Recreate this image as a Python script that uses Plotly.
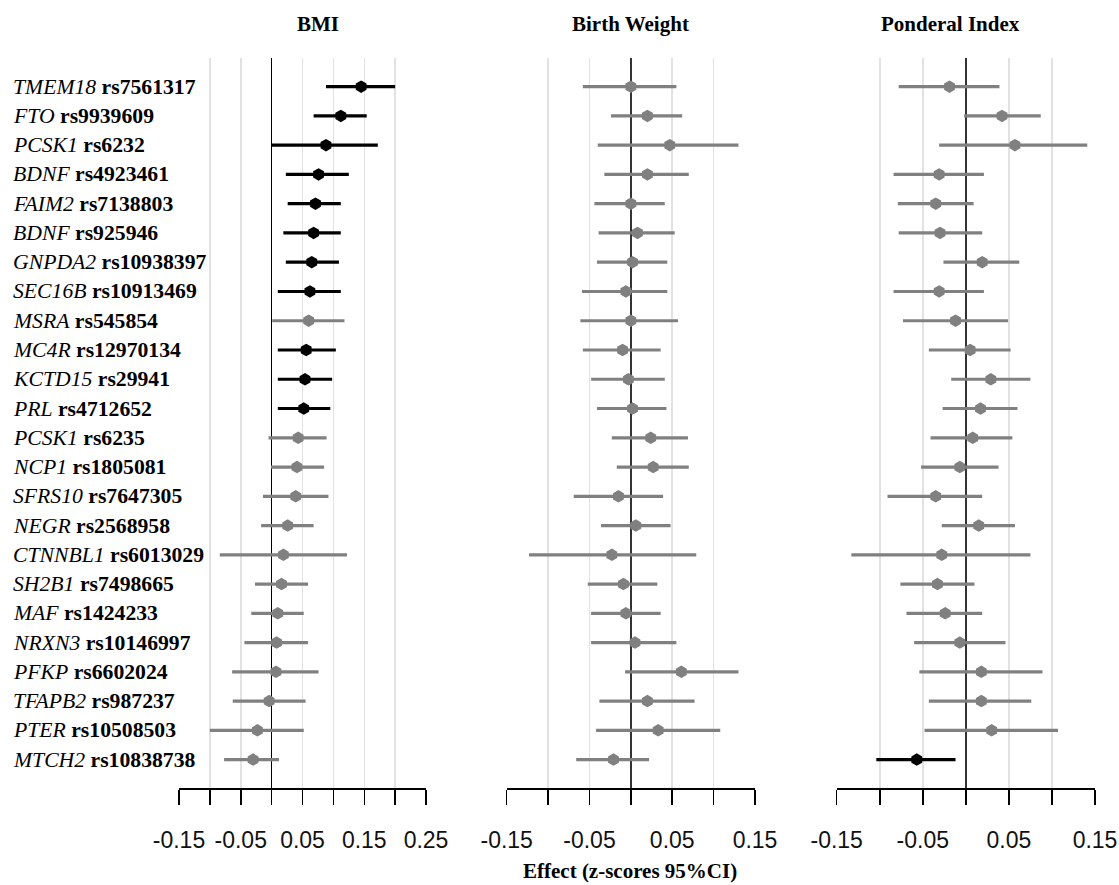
import plotly.graph_objects as go

W, H = 1119, 885

genes = ["TMEM18", "FTO", "PCSK1", "BDNF", "FAIM2", "BDNF", "GNPDA2", "SEC16B",
         "MSRA", "MC4R", "KCTD15", "PRL", "PCSK1", "NCP1", "SFRS10", "NEGR",
         "CTNNBL1", "SH2B1", "MAF", "NRXN3", "PFKP", "TFAPB2", "PTER", "MTCH2"]
snps = ["rs7561317", "rs9939609", "rs6232", "rs4923461", "rs7138803", "rs925946",
        "rs10938397", "rs10913469", "rs545854", "rs12970134", "rs29941", "rs4712652",
        "rs6235", "rs1805081", "rs7647305", "rs2568958", "rs6013029", "rs7498665",
        "rs1424233", "rs10146997", "rs6602024", "rs987237", "rs10508503", "rs10838738"]

bmi_est = [0.145, 0.112, 0.088, 0.076, 0.071, 0.068, 0.065, 0.062, 0.060, 0.056, 0.054, 0.052,
           0.043, 0.041, 0.039, 0.026, 0.019, 0.016, 0.010, 0.008, 0.007, -0.004, -0.023, -0.030]
bmi_lo = [0.088, 0.068, 0.000, 0.023, 0.026, 0.019, 0.023, 0.010, 0.001, 0.010, 0.010, 0.010,
          -0.005, -0.001, -0.014, -0.017, -0.084, -0.027, -0.033, -0.044, -0.064, -0.063, -0.100, -0.077]
bmi_hi = [0.200, 0.154, 0.172, 0.125, 0.112, 0.112, 0.109, 0.112, 0.118, 0.104, 0.098, 0.095,
          0.089, 0.085, 0.092, 0.068, 0.122, 0.059, 0.052, 0.059, 0.076, 0.055, 0.052, 0.012]
bmi_sig = [1, 1, 1, 1, 1, 1, 1, 1, 0, 1, 1, 1, 0, 0, 0, 0, 0, 0, 0, 0, 0, 0, 0, 0]

bw_est = [0.000, 0.020, 0.047, 0.020, 0.000, 0.008, 0.002, -0.006, 0.000, -0.010, -0.003, 0.002,
          0.024, 0.027, -0.015, 0.006, -0.023, -0.009, -0.006, 0.005, 0.061, 0.020, 0.033, -0.021]
bw_lo = [-0.058, -0.024, -0.040, -0.032, -0.044, -0.039, -0.041, -0.059, -0.061, -0.058, -0.048, -0.041,
         -0.023, -0.017, -0.069, -0.036, -0.123, -0.052, -0.048, -0.048, -0.007, -0.038, -0.042, -0.066]
bw_hi = [0.055, 0.062, 0.130, 0.070, 0.041, 0.053, 0.044, 0.044, 0.057, 0.036, 0.041, 0.043,
         0.069, 0.070, 0.039, 0.048, 0.079, 0.032, 0.036, 0.055, 0.130, 0.077, 0.108, 0.022]
bw_sig = [0] * 24

pi_est = [-0.019, 0.042, 0.057, -0.031, -0.035, -0.030, 0.019, -0.031, -0.012, 0.005, 0.029, 0.017,
          0.008, -0.007, -0.035, 0.015, -0.028, -0.033, -0.024, -0.007, 0.018, 0.018, 0.030, -0.057]
pi_lo = [-0.078, -0.002, -0.031, -0.084, -0.079, -0.078, -0.026, -0.084, -0.073, -0.043, -0.017, -0.027,
         -0.041, -0.052, -0.091, -0.028, -0.133, -0.076, -0.069, -0.060, -0.054, -0.043, -0.048, -0.104]
pi_hi = [0.039, 0.087, 0.141, 0.021, 0.009, 0.019, 0.062, 0.021, 0.049, 0.052, 0.075, 0.060,
         0.054, 0.038, 0.019, 0.057, 0.075, 0.010, 0.019, 0.046, 0.089, 0.076, 0.107, -0.012]
pi_sig = [0] * 23 + [1]

panel_titles = ["BMI", "Birth Weight", "Ponderal Index"]
bmi_ticks = [-0.15, -0.10, -0.05, 0.00, 0.05, 0.10, 0.15, 0.20, 0.25]
bw_ticks = [-0.15, -0.10, -0.05, 0.00, 0.05, 0.10, 0.15]
pi_ticks = [-0.15, -0.10, -0.05, 0.00, 0.05, 0.10, 0.15]
x_title = "Effect (z-scores 95%CI)"

rows = [f"{g} {s}" for g, s in zip(genes, snps)]

BLACK = "#000000"
GRAY = "#808080"

panels = [
    (bmi_est, bmi_lo, bmi_hi, bmi_sig, "x", "y"),
    (bw_est, bw_lo, bw_hi, bw_sig, "x2", "y2"),
    (pi_est, pi_lo, pi_hi, pi_sig, "x3", "y3"),
]

fig = go.Figure()
for est, lo, hi, sig, xa, ya in panels:
    for flag, col in ((0, GRAY), (1, BLACK)):
        idx = [i for i in range(len(est)) if sig[i] == flag]
        if not idx:
            continue
        fig.add_trace(go.Scatter(
            x=[est[i] for i in idx],
            y=[rows[i] for i in idx],
            mode="markers",
            xaxis=xa, yaxis=ya,
            marker=dict(symbol="hexagon", size=12.5, color=col, line=dict(width=0)),
            error_x=dict(type="data", symmetric=False,
                         array=[hi[i] - est[i] for i in idx],
                         arrayminus=[est[i] - lo[i] for i in idx],
                         color=col, thickness=3.2, width=0),
            showlegend=False, hoverinfo="skip",
        ))


def px_x(p):
    return p / W


def px_y(p):
    return 1 - p / H


ydom = [px_y(788), px_y(58)]
xdoms = [[px_x(179), px_x(426)], [px_x(506.7), px_x(755)], [px_x(836.7), px_x(1095)]]
ranges = [[-0.15, 0.25], [-0.15, 0.15], [-0.15, 0.15]]
zcols = [(BLACK, 1.5), ("#333333", 2), ("#333333", 2)]
tick_sets = [bmi_ticks, bw_ticks, pi_ticks]

layout = dict(
    width=W, height=H,
    margin=dict(l=0, r=0, t=0, b=0, autoexpand=False),
    paper_bgcolor="white", plot_bgcolor="white",
    showlegend=False,
)
for k in range(3):
    sfx = "" if k == 0 else str(k + 1)
    ticks = tick_sets[k]
    text = [(f"{v:.2f}" if j % 2 == 0 else "") for j, v in enumerate(ticks)]
    layout["xaxis" + sfx] = dict(
        domain=xdoms[k], range=ranges[k], anchor="y" + sfx,
        tickmode="array", tickvals=ticks, ticktext=text,
        showgrid=True, gridcolor="#e2e2e2", gridwidth=1.5,
        zeroline=True, zerolinecolor=zcols[k][0], zerolinewidth=zcols[k][1],
        showline=True, linecolor="black", linewidth=1.5,
        ticks="outside", ticklen=15, tickwidth=1.5, tickcolor="black",
        ticklabelstandoff=16,
        tickfont=dict(family="Liberation Sans, Arial", size=23, color="#111111"),
        fixedrange=True,
    )
    layout["yaxis" + sfx] = dict(
        domain=ydom, anchor="x" + sfx,
        type="category", categoryorder="array", categoryarray=rows,
        range=[23.97, -0.98],
        showgrid=False, zeroline=False, showline=False, showticklabels=False,
        ticks="", fixedrange=True,
    )
fig.update_layout(**layout)

serif = "Liberation Serif, Times New Roman, serif"
annots = []
for r, g, s in zip(rows, genes, snps):
    annots.append(dict(
        x=px_x(11), xref="paper", xanchor="left",
        y=r, yref="y", yanchor="middle",
        text=f"<i>{g}</i> <b>{s}</b>", showarrow=False,
        font=dict(family=serif, size=21.7, color="black"),
    ))
title_x = [318, 630, 950]
for t, xp in zip(panel_titles, title_x):
    annots.append(dict(
        x=px_x(xp), xref="paper", xanchor="center",
        y=px_y(24), yref="paper", yanchor="middle",
        text=f"<b>{t}</b>", showarrow=False,
        font=dict(family=serif, size=21, color="black"),
    ))
annots.append(dict(
    x=px_x(630), xref="paper", xanchor="center",
    y=px_y(871), yref="paper", yanchor="middle",
    text=f"<b>{x_title}</b>", showarrow=False,
    font=dict(family=serif, size=21, color="black"),
))
fig.update_layout(annotations=annots)

fig.write_html(
    "out.html",
    config={"displayModeBar": False, "staticPlot": True},
    post_script="document.body.style.margin='0';document.body.style.overflow='hidden';",
)
